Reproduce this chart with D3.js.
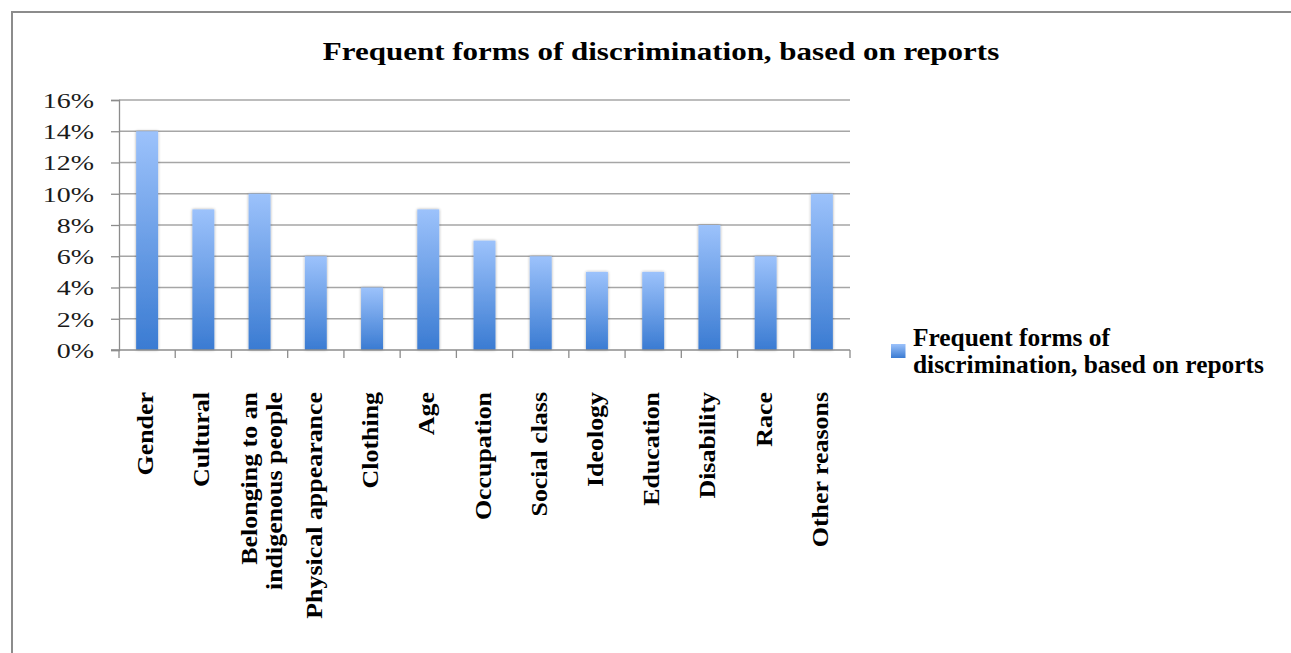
<!DOCTYPE html>
<html>
<head>
<meta charset="utf-8">
<script src="https://cdn.jsdelivr.net/npm/d3@7"></script>
<style>
  html, body { margin: 0; padding: 0; background: #fff; }
  svg { display: block; }
</style>
</head>
<body>
<svg id="chart" width="1291" height="653"></svg>
<script>
const categories = ["Gender", "Cultural", "Belonging to an\nindigenous people", "Physical appearance", "Clothing", "Age", "Occupation", "Social class", "Ideology", "Education", "Disability", "Race", "Other reasons"];
const values = [14, 9, 10, 6, 4, 9, 7, 6, 5, 5, 8, 6, 10];
const yTicks = [0, 2, 4, 6, 8, 10, 12, 14, 16];
const title = "Frequent forms of discrimination, based on reports";
const seriesName = ["Frequent forms of", "discrimination, based on reports"];

(function () {
const svg = d3.select("#chart");
const serif = "'Liberation Serif', 'Times New Roman', serif";

// outer border
svg.append("rect").attr("x", 12).attr("y", 12).attr("width", 1290).attr("height", 660)
  .attr("fill", "#fff").attr("stroke", "#8c8c8c").attr("stroke-width", 2);

const defs = svg.append("defs");
const grad = defs.append("linearGradient").attr("id", "barGrad")
  .attr("x1", 0).attr("y1", 0).attr("x2", 0).attr("y2", 1);
grad.append("stop").attr("offset", "0%").attr("stop-color", "#9cc2fb");
grad.append("stop").attr("offset", "100%").attr("stop-color", "#3a7bd2");
const filt = defs.append("filter").attr("id", "shadow").attr("x", "-30%").attr("y", "-10%").attr("width", "160%").attr("height", "120%");
filt.append("feGaussianBlur").attr("in", "SourceAlpha").attr("stdDeviation", 1.5).attr("result", "b");
filt.append("feComponentTransfer").attr("in", "b").attr("result", "s")
  .append("feFuncA").attr("type", "linear").attr("slope", 0.35);
const fm = filt.append("feMerge");
fm.append("feMergeNode").attr("in", "s");
fm.append("feMergeNode").attr("in", "SourceGraphic");

const pLeft = 119, pRight = 850, pTop = 100, pBottom = 350;
const x = d3.scaleBand().domain(categories).range([pLeft, pRight]).paddingInner(0.61).paddingOuter(0.305);
const y = d3.scaleLinear().domain([0, 16]).range([pBottom, pTop]);

// gridlines
svg.append("g").selectAll("line").data(yTicks.filter(d => d > 0)).join("line")
  .attr("x1", pLeft).attr("x2", pRight).attr("y1", d => y(d)).attr("y2", d => y(d))
  .attr("stroke", "#a6a6a6").attr("stroke-width", 1.3);

// y axis
const ySx = 1.27;
const yAxis = svg.append("g").attr("transform", `translate(${pLeft},0)`)
  .call(d3.axisLeft(y).tickValues(yTicks).tickSize(8).tickPadding(14).tickFormat(d => d + "%"));
yAxis.select(".domain").attr("stroke", "#8c8c8c").attr("stroke-width", 1.3);
yAxis.selectAll(".tick line").attr("stroke", "#8c8c8c").attr("stroke-width", 1.3);
yAxis.selectAll(".tick text").attr("font-family", serif).attr("font-size", 22).attr("fill", "#1a1a1a")
  .attr("x", -25 / ySx).attr("dy", "0.33em").attr("transform", `scale(${ySx},1)`);

// bars
svg.append("g").selectAll("rect").data(values).join("rect")
  .attr("x", (d, i) => x(categories[i]))
  .attr("y", d => y(d))
  .attr("width", x.bandwidth())
  .attr("height", d => y(0) - y(d))
  .attr("fill", "url(#barGrad)")
  .attr("filter", "url(#shadow)");

// x axis
const step = x.step();
const xb = svg.append("g");
xb.append("line").attr("x1", pLeft - 8).attr("x2", pRight).attr("y1", pBottom).attr("y2", pBottom)
  .attr("stroke", "#8c8c8c").attr("stroke-width", 1.3);
const boundaries = d3.range(categories.length + 1).map(i => pLeft + i * step);
xb.selectAll("line.tk").data(boundaries).join("line").attr("class", "tk")
  .attr("x1", d => d).attr("x2", d => d).attr("y1", pBottom).attr("y2", pBottom + 8)
  .attr("stroke", "#8c8c8c").attr("stroke-width", 1.3);

// category labels
const labG = svg.append("g");
categories.forEach((c, i) => {
  const cx = x(c) + x.bandwidth() / 2;
  const lines = c.split("\n");
  const t = labG.append("text")
    .attr("transform", `translate(${cx},392) rotate(-90) scale(1.08,1)`)
    .attr("text-anchor", "end")
    .attr("font-family", serif).attr("font-weight", "bold").attr("font-size", 24).attr("fill", "#000");
  const n = lines.length;
  lines.forEach((l, j) => {
    t.append("tspan").attr("x", 0).attr("y", (j - (n - 1) / 2) * 25 + 6 + (n - 1) * 4).text(l);
  });
});

// title
svg.append("text").attr("transform", "translate(661,60) scale(1.24,1)").attr("text-anchor", "middle")
  .attr("font-family", serif).attr("font-weight", "bold").attr("font-size", 25).attr("fill", "#000")
  .text(title);

// legend
svg.append("rect").attr("x", 891).attr("y", 344).attr("width", 14.5).attr("height", 14).attr("fill", "url(#barGrad)");
seriesName.forEach((s, j) => {
  svg.append("text").attr("transform", `translate(913,${345.5 + j * 27.5}) scale(1.05,1)`)
    .attr("font-family", serif).attr("font-weight", "bold").attr("font-size", 24.2).attr("fill", "#000")
    .text(s);
});
})();
</script>
</body>
</html>
